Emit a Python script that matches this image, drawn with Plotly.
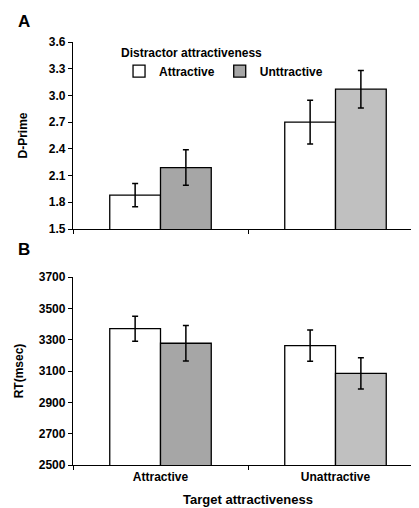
import plotly.graph_objects as go

categories = ["Attractive", "Unattractive"]
series_names = ["Attractive", "Unttractive"]

dprime_attr = [1.88, 2.70]
dprime_attr_err = [0.13, 0.245]
dprime_unattr = [2.19, 3.07]
dprime_unattr_err = [0.20, 0.21]

rt_attr = [3370, 3262]
rt_attr_err = [80, 100]
rt_unattr = [3277, 3085]
rt_unattr_err = [113, 100]

dprime_ticks = [1.5, 1.8, 2.1, 2.4, 2.7, 3.0, 3.3, 3.6]
rt_ticks = [2500, 2700, 2900, 3100, 3300, 3500, 3700]

gray_colors = ["#a6a6a6", "#c0c0c0"]
FONT = "Arial, Liberation Sans, sans-serif"

fig = go.Figure()

def err(vals):
    return dict(type="data", array=vals, color="black", thickness=1.5, width=3)

line = dict(color="black", width=1.3)

fig.add_trace(go.Bar(x=categories, y=dprime_attr, error_y=err(dprime_attr_err),
                     marker=dict(color="white", line=line), name=f"<b>{series_names[0]}</b>",
                     xaxis="x", yaxis="y", showlegend=True, legendgroup="a"))
fig.add_trace(go.Bar(x=categories, y=dprime_unattr, error_y=err(dprime_unattr_err),
                     marker=dict(color=gray_colors, line=line), name=f"<b>{series_names[1]}</b>",
                     xaxis="x", yaxis="y", showlegend=True, legendgroup="u"))
fig.add_trace(go.Bar(x=categories, y=rt_attr, error_y=err(rt_attr_err),
                     marker=dict(color="white", line=line), name=f"<b>{series_names[0]}</b>",
                     xaxis="x2", yaxis="y2", showlegend=False, legendgroup="a"))
fig.add_trace(go.Bar(x=categories, y=rt_unattr, error_y=err(rt_unattr_err),
                     marker=dict(color=gray_colors, line=line), name=f"<b>{series_names[1]}</b>",
                     xaxis="x2", yaxis="y2", showlegend=False, legendgroup="u"))

W, H = 419, 508
xdom = [65 / W, 415 / W]

def axis_common(size=12):
    return dict(showline=True, linecolor="black", linewidth=1.3, showgrid=False,
                zeroline=False, ticks="outside", ticklen=4, tickcolor="black",
                automargin=False,
                tickfont=dict(family=FONT, size=size, color="black"))

fig.update_layout(
    width=W, height=H,
    margin=dict(l=0, r=0, t=0, b=0),
    paper_bgcolor="white", plot_bgcolor="white",
    barmode="group", bargap=0.42, bargroupgap=0,
    font=dict(family=FONT, color="black"),
    xaxis=dict(domain=xdom, anchor="y", type="category", showticklabels=False,
               tickson="boundaries", **axis_common()),
    yaxis=dict(domain=[1 - 221 / H, 1 - 34 / H], anchor="x", range=[1.5, 3.6],
               tickmode="array", tickvals=dprime_ticks,
               ticktext=[f"<b>{v:.1f}</b>" for v in dprime_ticks],
               title=dict(text="<b>D-Prime</b>", font=dict(size=12, family=FONT), standoff=18),
               **axis_common()),
    xaxis2=dict(domain=xdom, anchor="y2", type="category", tickson="boundaries",
                tickmode="array", tickvals=categories,
                ticktext=[f"<b>{c}</b>" for c in categories],
                title=dict(text="<b>Target attractiveness</b>", font=dict(size=13, family=FONT), standoff=12),
                **axis_common(12)),
    yaxis2=dict(domain=[1 - 457 / H, 1 - 269 / H], anchor="x2", range=[2500, 3700],
                tickmode="array", tickvals=rt_ticks,
                ticktext=[f"<b>{v}</b>" for v in rt_ticks],
                title=dict(text="<b>RT(msec)</b>", font=dict(size=12, family=FONT), standoff=12),
                **axis_common()),
    legend=dict(orientation="h", x=0.265, y=0.935, xanchor="left", yanchor="top",
                bgcolor="rgba(0,0,0,0)",
                title=dict(text="<b>Distractor attractiveness</b>", side="top",
                           font=dict(size=12, family=FONT)),
                font=dict(size=12, family=FONT), itemwidth=30,
                traceorder="normal"),
)

fig.add_annotation(text="<b>A</b>", x=8 / W, y=1 - 14 / H, xref="paper", yref="paper",
                   xanchor="left", yanchor="middle", showarrow=False,
                   font=dict(size=17, family=FONT, color="black"))
fig.add_annotation(text="<b>B</b>", x=8 / W, y=1 - 241 / H, xref="paper", yref="paper",
                   xanchor="left", yanchor="middle", showarrow=False,
                   font=dict(size=17, family=FONT, color="black"))

fig.write_html("out.html")
